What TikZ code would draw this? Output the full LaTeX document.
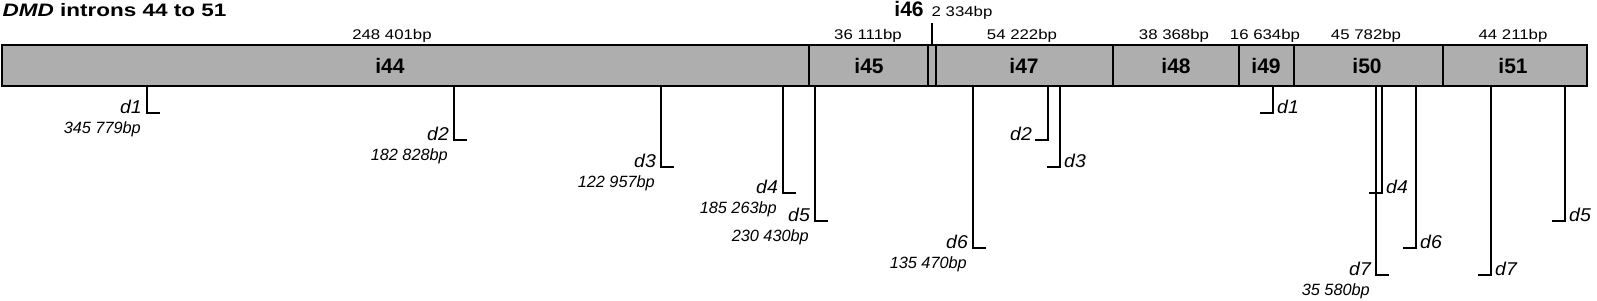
\documentclass[tikz,border=0pt]{standalone}
\usepackage{fontspec}
\setmainfont{Liberation Sans}
\newfontfamily\titlefont[FakeStretch=1.25]{Liberation Sans}
\newfontfamily\sizefont[FakeStretch=1.2]{Liberation Sans}
\newfontfamily\dfont[FakeStretch=1.05]{Liberation Sans}
\usepackage{xcolor}
\usepackage{tikz}
\usetikzlibrary{calc}
\definecolor{xam}{HTML}{AEAEAE}

\begin{document}
\begin{tikzpicture}[x=1pt, y=-1pt,
    intron/.style={draw, line width=1.2pt, fill=xam},
    drop/.style={line width=1.1pt},
    sizelbl/.style={anchor=base, inner sep=0pt, font=\sizefont\fontsize{14}{16}\selectfont},
    boxlbl/.style={anchor=base, inner sep=0pt, font=\fontsize{21}{24}\selectfont\bfseries},
    dlbl/.style={inner sep=0pt, font=\dfont\fontsize{18.5}{20}\selectfont\itshape},
    bplbl/.style={anchor=base east, inner sep=0pt, font=\fontsize{16.3}{18}\selectfont\itshape}]
    \useasboundingbox (0,0) rectangle (1597,300);

    % Tiêu đề
    \node[anchor=base west, inner sep=0pt, font=\titlefont\fontsize{18}{22}\selectfont\bfseries] (title)
        at (2.5,16.7) {\textit{DMD} introns 44 to 51};

    % Các intron
    \foreach \n/\xa/\xb/\lx/\bp/\bx in {44/2/809/390/248 401bp/392,
        45/809/928/869/36 111bp/868, 47/936/1113/1024/54 222bp/1022,
        48/1113/1239/1176/38 368bp/1174, 49/1239/1294/1266/16 634bp/1265,
        50/1294/1443/1367/45 782bp/1366, 51/1443/1587/1513/44 211bp/1513} {
        \draw[intron] (\xa,45) rectangle (\xb,86);
        \node[boxlbl] (i\n) at (\lx,73.5) {i\n};
        \node[sizelbl] (s\n) at (\bx,39.5) {\bp};
    }

    % Intron 46 (rất ngắn)
    \draw[intron] (928,45) rectangle (936,86);
    \coordinate (t46) at (932,45);
    \coordinate (t46top) at (932,23);
    \draw[drop] (t46) -- (t46top);
    \node[boxlbl] (i46) at (909,16.7) {i46};
    \node[sizelbl, anchor=base west] (s46) at (931.5,16.7) {2 334bp};

    % Điểm gãy, nhãn bên trái
    \foreach \x/\y/\d/\bp [count=\k] in {147/113/d1/345 779bp, 454/140/d2/182 828bp,
        661/167/d3/122 957bp, 783/193/d4/185 263bp, 815/221/d5/230 430bp,
        973/248/d6/135 470bp, 1376/275/d7/35 580bp} {
        \coordinate (a\k) at (\x,86);
        \coordinate (b\k) at (\x+13,\y);
        \draw[drop] (a\k) |- (b\k);
        \node[dlbl, anchor=base east] (dl\k) at (\x-5,\y) {\d};
        \node[bplbl] (bp\k) at (\x-6,\y+20) {\bp};
    }

    % Điểm gãy, nhãn bên phải
    \foreach \x/\y/\d [count=\k] in {1060/167/d3, 1273/113/d1, 1382/193/d4,
        1416/248/d6, 1491/275/d7, 1565/221/d5} {
        \coordinate (c\k) at (\x,86);
        \coordinate (e\k) at (\x-13,\y);
        \draw[drop] (c\k) |- (e\k);
        \node[dlbl, anchor=base west] (dr\k) at (\x+4,\y) {\d};
    }

    % d2 trong i47
    \coordinate (f2) at (1048,86);
    \coordinate (g2) at (1035,140);
    \draw[drop] (f2) |- (g2);
    \node[dlbl, anchor=base east] (dm2) at (1032,140) {d2};
\end{tikzpicture}
\end{document}
